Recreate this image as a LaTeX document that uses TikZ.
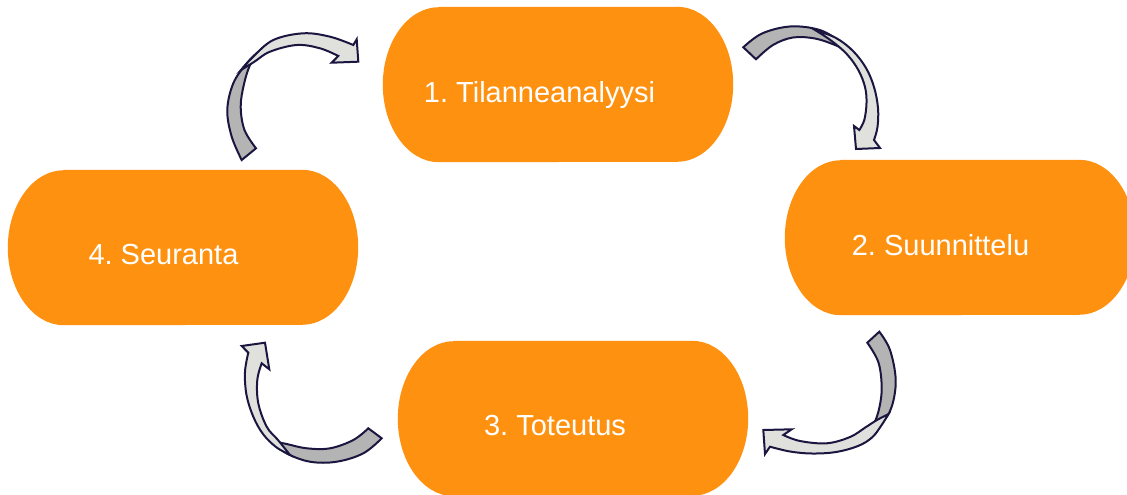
\documentclass[tikz,border=0pt]{standalone}
\usepackage{fontspec}
\setmainfont{Liberation Sans}
\frenchspacing
\definecolor{boxorange}{RGB}{254,146,16}
\definecolor{arrowline}{RGB}{26,22,64}
\definecolor{backgray}{RGB}{180,180,180}
\definecolor{frontgray}{RGB}{224,225,221}
\newcommand\termpath[1]{([xshift=56pt]#1.north west) -- ([xshift=-56pt]#1.north east) arc[start angle=90,end angle=-90,x radius=56pt,y radius=77.5pt] -- ([xshift=56pt]#1.south west) arc[start angle=270,end angle=90,x radius=56pt,y radius=77.5pt] -- cycle}
\tikzset{
  stagebox/.style={rectangle,draw=none,minimum width=350pt,minimum height=155pt,inner sep=0pt},
  stagetext/.style={anchor=base,inner sep=0pt,text=white,font=\fontsize{29}{34}\selectfont},
  backface/.style={fill=backgray,draw=arrowline,line width=2pt,line join=miter},
  frontface/.style={fill=frontgray,draw=arrowline,line width=2pt,line join=miter},
}
\begin{document}
\begin{tikzpicture}[x=1pt,y=-1pt]
\useasboundingbox (0,0) rectangle (1127,495);
% boxes
\node[stagebox] (b1) at (558,84.5) {};
\node[stagebox] (b2) at (960,237.5) {};
\node[stagebox] (b3) at (573,418.5) {};
\node[stagebox] (b4) at (183,247.5) {};
\fill[boxorange] \termpath{b1};
\fill[boxorange] \termpath{b2};
\fill[boxorange] \termpath{b3};
\fill[boxorange] \termpath{b4};
\node[stagetext] (t1) at (539.5,102) {1. Tilanneanalyysi};
\node[stagetext] (t2) at (940.5,255) {2. Suunnittelu};
\node[stagetext] (t3) at (555,435) {3. Toteutus};
\node[stagetext] (t4) at (163.5,264) {4. Seuranta};
% arrow 1 (top right)
\draw[backface] plot[smooth,tension=.6] coordinates {(743.3,47.3) (762,33.5) (790,26.5) (818,29.5) (838,40) (850,52)}
  -- plot[smooth,tension=.6] coordinates {(850,52) (835,45) (815,38.5) (793,37.5) (773,45) (756,59.3)} -- cycle;
\draw[frontface] plot[smooth,tension=.6] coordinates {(815,30) (836,38) (853,51) (866,68) (874,87) (878,108) (877.5,127) (874,140)}
  -- (880,148) -- (856,149) -- (854,126) -- (859.3,130)
  -- plot[smooth,tension=.6] coordinates {(859.3,130) (864.3,120) (866.5,103) (865,87) (858.3,70) (846.7,54) (831,40.5) (815,30)} -- cycle;
% arrow 2 (bottom right)
\draw[backface] plot[smooth,tension=.6] coordinates {(879.3,331.7) (890,350) (895.7,380) (891.7,406.7) (881.7,423.3) (866,437)}
  -- plot[smooth,tension=.6] coordinates {(866,437) (874,424) (879.5,407) (881.7,386.7) (878.3,362) (867.3,342.7)} -- cycle;
\draw[frontface] plot[smooth,tension=.6] coordinates {(888.5,414) (881,426) (872,437.5) (858,446) (836,452) (812,453.5) (790,451.5) (770,446.7)}
  -- (765,454) -- (763.3,430) -- (791.7,429.3) -- (783.3,435)
  -- plot[smooth,tension=.6] coordinates {(783.3,435) (800,441) (826.7,443.3) (850,437) (866,427) (877,420) (888.5,414)} -- cycle;
% arrow 3 (bottom left)
\draw[backface] plot[smooth,tension=.6] coordinates {(381.7,438.3) (363.3,453.3) (336.7,461.7) (310,461.7) (286.7,453.3) (272,441)}
  -- plot[smooth,tension=.6] coordinates {(272,441) (286.7,444) (306.7,448.3) (330,448.3) (353.3,440) (368.3,428.3)} -- cycle;
\draw[frontface] plot[smooth,tension=.6] coordinates {(290,455) (276,447) (263,434) (253.3,416.7) (246.5,395) (245,372) (248.3,352.7)}
  -- (241.7,346) -- (265,342.7) -- (269.3,369.3) -- (261.7,363.3)
  -- plot[smooth,tension=.6] coordinates {(261.7,363.3) (257.3,380) (258.3,403.3) (266.7,426.7) (278,440) (290,455)} -- cycle;
% arrow 4 (top left)
\draw[backface] plot[smooth,tension=.6] coordinates {(241.7,160) (231.7,136.7) (227.3,110) (233.3,83.3) (246.7,63.3) (258,52)}
  -- plot[smooth,tension=.6] coordinates {(258,52) (250,65) (244,84) (240.7,106.7) (244.5,130) (256,148.3)} -- cycle;
\draw[frontface] plot[smooth,tension=.6] coordinates {(241,70) (253.3,56.7) (273.3,40) (303.3,33.3) (330,36.7) (353.3,45)}
  -- (356.7,39.3) -- (358.3,61.7) -- (331.7,62.7) -- (338.3,56)
  -- plot[smooth,tension=.6] coordinates {(338.3,56) (320,48.3) (296.7,45) (270,51.7) (254,62) (241,70)} -- cycle;
\end{tikzpicture}
\end{document}
